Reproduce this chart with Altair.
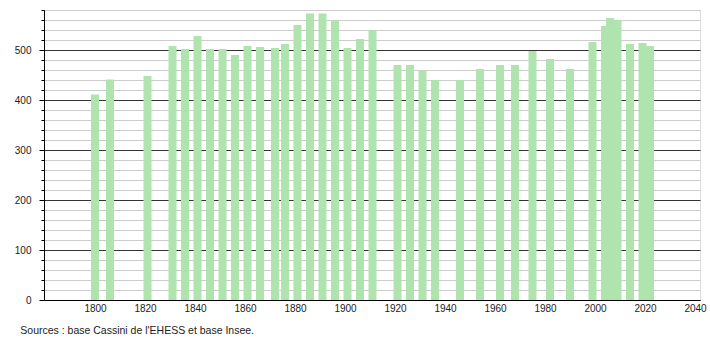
import altair as alt
import pandas as pd

years = [1800, 1806, 1821, 1831, 1836, 1841, 1846, 1851, 1856, 1861, 1866, 1872,
         1876, 1881, 1886, 1891, 1896, 1901, 1906, 1911, 1921, 1926, 1931, 1936,
         1946, 1954, 1962, 1968, 1975, 1982, 1990, 1999, 2004, 2006, 2009, 2014,
         2019, 2022]
population = [411, 441, 448, 508, 502, 528, 502, 502, 490, 508, 506, 504,
              512, 550, 573, 573, 559, 504, 522, 539, 470, 470, 459, 440,
              440, 462, 470, 470, 498, 482, 462, 516, 548, 564, 560, 512,
              514, 508]
x_ticks = [1800, 1820, 1840, 1860, 1880, 1900, 1920, 1940, 1960, 1980, 2000, 2020, 2040]
y_ticks = list(range(0, 581, 20))
source_text = "Sources : base Cassini de l'EHESS et base Insee."

df = pd.DataFrame({"year": years, "pop": population})

FONT = "Liberation Sans"
major = "datum.value % 100 === 0"

chart = alt.Chart(df).mark_bar(size=8, color="#afe4af").encode(
    x=alt.X("year:Q",
            scale=alt.Scale(domain=[1779.6, 2042], nice=False, zero=False, padding=0),
            axis=alt.Axis(values=x_ticks, title=None, format="d", grid=False,
                          ticks=False, labelPadding=3, labelFontSize=10,
                          labelFont=FONT, labelColor="#222",
                          domainColor="#000", labelFlush=False)),
    y=alt.Y("pop:Q",
            scale=alt.Scale(domain=[0, 580], nice=False, padding=0),
            axis=alt.Axis(values=y_ticks, title=None, grid=True,
                          gridColor=alt.condition(major, alt.value("#333333"), alt.value("#cccccc")),
                          tickSize=alt.condition(major, alt.value(5), alt.value(3)),
                          labelExpr="datum.value % 100 === 0 ? datum.label : ''",
                          labelPadding=8, labelFontSize=10, labelFont=FONT,
                          labelColor="#222", tickColor="#000", domainColor="#000")),
).properties(
    width=656, height=290,
    title=alt.TitleParams(source_text, orient="bottom", anchor="start",
                          fontSize=10.5, font=FONT, fontWeight="normal",
                          color="#222", offset=13, dx=6),
    padding={"left": 44, "top": 10, "right": 10, "bottom": 40},
    autosize=alt.AutoSizeParams(type="none"),
).configure_view(stroke=None).configure(background="white")

chart.save("out.html", embed_options={"renderer": "svg", "actions": False})
